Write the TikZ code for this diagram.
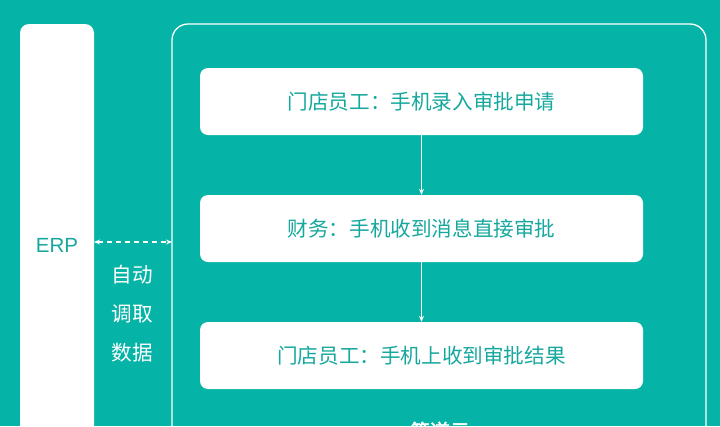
\documentclass[tikz,border=0pt]{standalone}
\usepackage{fontspec}
\setmainfont{Liberation Sans}
\newfontfamily\cjk{Noto Sans CJK SC}
\newfontfamily\cjkb{Noto Sans CJK SC}[FakeBold=2]
\usetikzlibrary{arrows.meta}
\definecolor{bgteal}{RGB}{6,179,167}
\definecolor{txteal}{RGB}{22,168,158}
\tikzset{
  stepbox/.style={fill=white, rounded corners=8pt, minimum width=443pt, minimum height=67pt, inner sep=0pt, text=txteal, font=\cjk\fontsize{20.6}{24}\selectfont},
  lbl/.style={text=white, inner sep=0pt, font=\cjk\fontsize{20.6}{24}\selectfont},
  flow/.style={draw=white, line width=1.1pt, -{Stealth[length=6pt,width=5pt]}},
}
\begin{document}
\begin{tikzpicture}[x=1pt,y=-1pt]
\useasboundingbox (0,0) rectangle (720,426);
\fill[bgteal] (0,0) rectangle (720,426);
\begin{scope}
\clip (0,0) rectangle (720,426);
% ERP column
\fill[white, rounded corners=9pt] (20,24) rectangle (94,460);
\node[text=txteal, font=\fontsize{20.5}{24}\selectfont, inner sep=0pt] (erp) at (57,245) {ERP};
\coordinate (erpR) at (94,242);
% outer frame
\draw[white, line width=1.3pt, rounded corners=16pt] (172,24) rectangle (706,470);
\coordinate (frameL) at (172,242);
% steps
\node[stepbox] (s1) at (421.5,101.5) {门店员工：手机录入审批申请};
\node[stepbox] (s2) at (421.5,228.5) {财务：手机收到消息直接审批};
\node[stepbox] (s3) at (421.5,355.5) {门店员工：手机上收到审批结果};
\draw[flow] (s1.south) -- (s2.north);
\draw[flow] (s2.south) -- (s3.north);
% dashed connector
\draw[white, line width=1.2pt, dash pattern=on 5pt off 4pt, {Stealth[length=6pt,width=5pt]}-{Stealth[length=6pt,width=5pt]}] (erpR) -- (frameL);
\node[lbl] (l1) at (132,275) {自动};
\node[lbl] (l2) at (132,314) {调取};
\node[lbl] (l3) at (132,353) {数据};
% bottom title (cut off in the reference)
\node[text=white, inner sep=0pt, font=\cjkb\fontsize{20}{24}\selectfont] (title) at (440,431) {简道云};
\end{scope}
\end{tikzpicture}
\end{document}
